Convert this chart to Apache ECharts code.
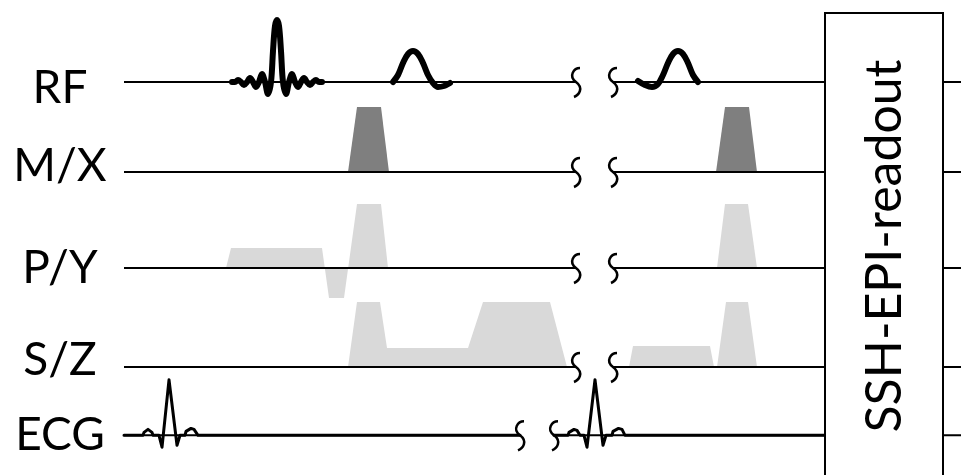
<!DOCTYPE html>
<html>
<head>
<meta charset="utf-8">
<style>html,body{margin:0;padding:0;background:#fff;}#c{width:961px;height:475px;}</style>
<script src="https://cdn.jsdelivr.net/npm/echarts@6/dist/echarts.min.js"></script>
</head>
<body>
<div id="c"></div>
<script>
// ---- data (time units, amplitude units) ----
const channels = ['RF', 'M/X', 'P/Y', 'S/Z', 'ECG'];
const timeEnd = 837;
const readoutStart = 701;
const readoutEnd = 819;
const readoutLabel = 'SSH-EPI-readout';
const gapStartTimes = [452, 452, 452, 452, 396];
const gapEndTimes = [489, 489, 489, 489, 430];

const rfExcitation = [[108,0],[111,0],[114,2],[117,0],[120,-3],[123,0],[126,4],[129,0],[132,-5],[135,0],[138,8],[141,0],[144,-12],[147,0],[149,31],[151,56],[153,62],[155,56],[157,31],[159,0],[162,-12],[165,0],[168,8],[171,0],[174,-5],[177,0],[180,4],[183,0],[186,-3],[189,0],[192,2],[195,0],[198,0]];
const rfPulse2 = [[269,0],[274,7],[279,19],[284,28],[289,31],[294,28],[299,19],[304,7],[309,-1],[314,-5],[320,-4],[326,-1]];
const rfPulse3 = [[514,1],[521,-3],[528,-5],[534,-2],[539,7],[544,19],[549,28],[554,31],[559,28],[564,19],[569,7],[574,0]];

const mxLobe1 = [[224,0],[233,65],[257,65],[265,0]];
const mxLobe2 = [[592,0],[601,65],[625,65],[633,0]];

const pyWave1 = [[102,0],[107,20],[198,20],[205,-30],[220,-30],[233,64],[257,64],[264,0]];
const pyWave2 = [[593,0],[601,64],[624,64],[633,0]];

const szWave1 = [[224,0],[233,65],[256,65],[263,19],[344,19],[359,65],[426,65],[443,0]];
const szWave2 = [[505,0],[509,21],[586,21],[590,0],[593,0],[602,65],[624,65],[633,0]];

const ecgBeat1 = [[0,0],[19,0],[20,3],[22,5],[24,6],[26,5],[28,3],[29,0],[35,0],[38,-12],[45,56],[53,-10],[56,0],[61,0],[62,4],[64,6],[67,7],[70,6],[72,4],[74,0],[396,0]];
const ecgBeat2 = [[430,0],[444,0],[445,3],[447,5],[450,6],[453,5],[455,3],[456,0],[460,0],[463,-12],[471,56],[479,-10],[482,0],[488,0],[489,4],[491,6],[494.5,7],[498,6],[500,4],[501,0],[701,0]];

// ---- layout / style ----
const baselineY = [82, 172, 268, 367, 436];
const labelY = [88, 166, 268, 360, 435];
const ampMax = 80, ampMin = -40;
const darkGray = '#7f7f7f', lightGray = '#d9d9d9';

const grids = [], xAxes = [], yAxes = [], series = [];
channels.forEach((ch, i) => {
  grids.push({left: 124, width: 837, top: baselineY[i] - ampMax, height: ampMax - ampMin, containLabel: false});
  xAxes.push({type: 'value', gridIndex: i, min: 0, max: timeEnd, show: false});
  yAxes.push({type: 'value', gridIndex: i, min: ampMin, max: ampMax, show: false});
  const base = {type: 'line', xAxisIndex: i, yAxisIndex: i, symbol: 'none', silent: true, z: 4,
    lineStyle: {color: '#000', width: 2}};
  series.push(Object.assign({}, base, {data: [[0,0],[gapStartTimes[i],0]]}));
  series.push(Object.assign({}, base, {data: [[gapEndTimes[i],0],[timeEnd,0]]}));
  series.push({
    type: 'custom', xAxisIndex: i, yAxisIndex: i, silent: true, z: 5,
    data: [[gapStartTimes[i]], [gapEndTimes[i]]],
    renderItem: function (params, api) {
      const p = api.coord([api.value(0), 0]);
      const x = p[0], y = p[1];
      const d = 'M' + (x+4) + ' ' + (y-14) + ' C' + (x-2) + ' ' + (y-14) + ' ' + (x-8) + ' ' + (y-6) + ' ' + x + ' ' + y +
                ' C' + (x+8) + ' ' + (y+6) + ' ' + (x+3) + ' ' + (y+13) + ' ' + (x-2) + ' ' + (y+15);
      return {type: 'path', shape: {pathData: d}, style: {fill: null, stroke: '#000', lineWidth: 2.5}};
    }
  });
});

function gradSeries(idx, data, color) {
  return {type: 'line', xAxisIndex: idx, yAxisIndex: idx, data: data, symbol: 'none', silent: true, z: 2,
    lineStyle: {width: 0, color: color}, areaStyle: {color: color, opacity: 1}};
}
function rfSeries(data) {
  return {type: 'line', xAxisIndex: 0, yAxisIndex: 0, data: data, symbol: 'none', silent: true, z: 6, smooth: 0.35,
    lineStyle: {width: 6, color: '#000', cap: 'round', join: 'round'}};
}
function ecgSeries(data) {
  return {type: 'line', xAxisIndex: 4, yAxisIndex: 4, data: data, symbol: 'none', silent: true, z: 6,
    lineStyle: {width: 3, color: '#000', cap: 'round', join: 'round'}};
}

series.push(rfSeries(rfExcitation), rfSeries(rfPulse2), rfSeries(rfPulse3));
series.push(gradSeries(1, mxLobe1, darkGray), gradSeries(1, mxLobe2, darkGray));
series.push(gradSeries(2, pyWave1, lightGray), gradSeries(2, pyWave2, lightGray));
series.push(gradSeries(3, szWave1, lightGray), gradSeries(3, szWave2, lightGray));
series.push(ecgSeries(ecgBeat1), ecgSeries(ecgBeat2));

// readout box
series.push({
  type: 'custom', xAxisIndex: 0, yAxisIndex: 0, silent: true, z: 20,
  data: [[readoutStart, readoutEnd, 69]],
  renderItem: function (params, api) {
    const a = api.coord([api.value(0), api.value(2)]);
    const b = api.coord([api.value(1), api.value(2)]);
    const h = api.getHeight() + 10 - a[1];
    return {type: 'group', children: [
      {type: 'rect', shape: {x: a[0], y: a[1], width: b[0] - a[0], height: h},
        style: {fill: '#fff', stroke: '#000', lineWidth: 2}},
      {type: 'text', x: (a[0] + b[0]) / 2 + 1, y: 246, rotation: Math.PI / 2,
        style: {text: readoutLabel, font: '50px Lato', fill: '#000', align: 'center', verticalAlign: 'middle'}}
    ]};
  }
});

const graphic = channels.map((ch, i) => ({
  type: 'text', x: 60, y: labelY[i],
  style: {text: ch, font: '46px Lato', fill: '#000', align: 'center', verticalAlign: 'middle'}
}));

const chart = echarts.init(document.getElementById('c'), null, {renderer: 'canvas'});
chart.setOption({
  animation: false,
  backgroundColor: '#fff',
  grid: grids, xAxis: xAxes, yAxis: yAxes,
  series: series,
  graphic: graphic
});
</script>
</body>
</html>
